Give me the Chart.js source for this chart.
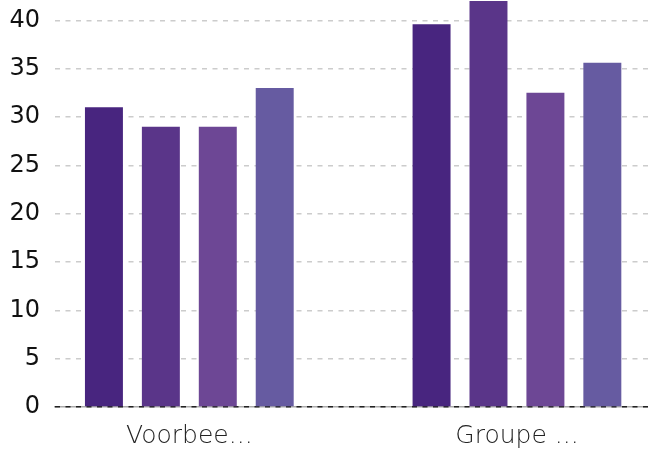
<!doctype html>
<html>
<head>
<meta charset="utf-8">
<title>Bar chart</title>
<script src="https://cdn.jsdelivr.net/npm/chart.js@4/dist/chart.umd.min.js"></script>
<style>
  html, body { margin: 0; padding: 0; background: #fff; }
  #wrap { width: 648px; height: 450px; }
</style>
</head>
<body>
<div id="wrap"><canvas id="chart"></canvas></div>
<script>
// categorieën en reeksen
var categories = ['Voorbee...', 'Groupe ...'];
var reeks1 = [31, 39.6];
var reeks2 = [29, 42];
var reeks3 = [29, 32.5];
var reeks4 = [33, 35.6];
var yTicks = [0, 5, 10, 15, 20, 25, 30, 35, 40];

var kleuren = ['#48257f', '#5a3589', '#6d4795', '#665ba1'];
var reeksen = [reeks1, reeks2, reeks3, reeks4];

function toPoints(arr) {
  return arr.map(function (v, i) { return { x: i, y: v }; });
}

new Chart(document.getElementById('chart').getContext('2d'), {
  type: 'bar',
  data: {
    datasets: reeksen.map(function (r, i) {
      return {
        label: 'Reeks ' + (i + 1),
        data: toPoints(r),
        backgroundColor: kleuren[i],
        borderWidth: 0
      };
    })
  },
  options: {
    responsive: true,
    maintainAspectRatio: false,
    animation: false,
    layout: { padding: { top: 1, right: 0, left: 0, bottom: 0 } },
    categoryPercentage: 0.695,
    barPercentage: 0.667,
    plugins: { legend: { display: false }, tooltip: { enabled: false } },
    scales: {
      x: {
        type: 'linear',
        offset: false,
        min: -0.41,
        max: 1.4,
        // grid eerst (z -3) zodat de randpositie al berekend is
        grid: { display: true, drawOnChartArea: false, drawTicks: false, z: -3 },
        // grijze lijn onder de gestippelde nullijn
        border: { display: true, color: '#aaaaaa', width: 1.5, z: -2 },
        afterBuildTicks: function (scale) {
          scale.ticks = categories.map(function (c, i) { return { value: i }; });
        },
        afterFit: function (scale) {
          scale.height = 43;
          scale.paddingLeft = 0;
          scale.paddingRight = 0;
        },
        ticks: {
          padding: 14,
          autoSkip: false,
          maxRotation: 0,
          color: '#222',
          font: { family: "'DejaVu Sans ExtraLight', 'DejaVu Sans'", size: 25, weight: 200 },
          callback: function (v) { return categories[v]; }
        }
      },
      y: {
        min: 0,
        max: 42,
        afterBuildTicks: function (scale) {
          scale.ticks = yTicks.map(function (v) { return { value: v }; });
        },
        afterFit: function (scale) {
          scale.width = 55;
          scale.paddingTop = 0;
          scale.paddingBottom = 0;
        },
        grid: {
          drawTicks: false,
          lineWidth: 1.5,
          color: function (ctx) { return ctx.tick && ctx.tick.value === 0 ? '#222' : '#cccccc'; }
        },
        border: { display: false, dash: [5, 5.5] },
        ticks: {
          padding: 15,
          color: '#111',
          font: { family: 'DejaVu Sans', size: 24 }
        }
      }
    }
  }
});
</script>
</body>
</html>
